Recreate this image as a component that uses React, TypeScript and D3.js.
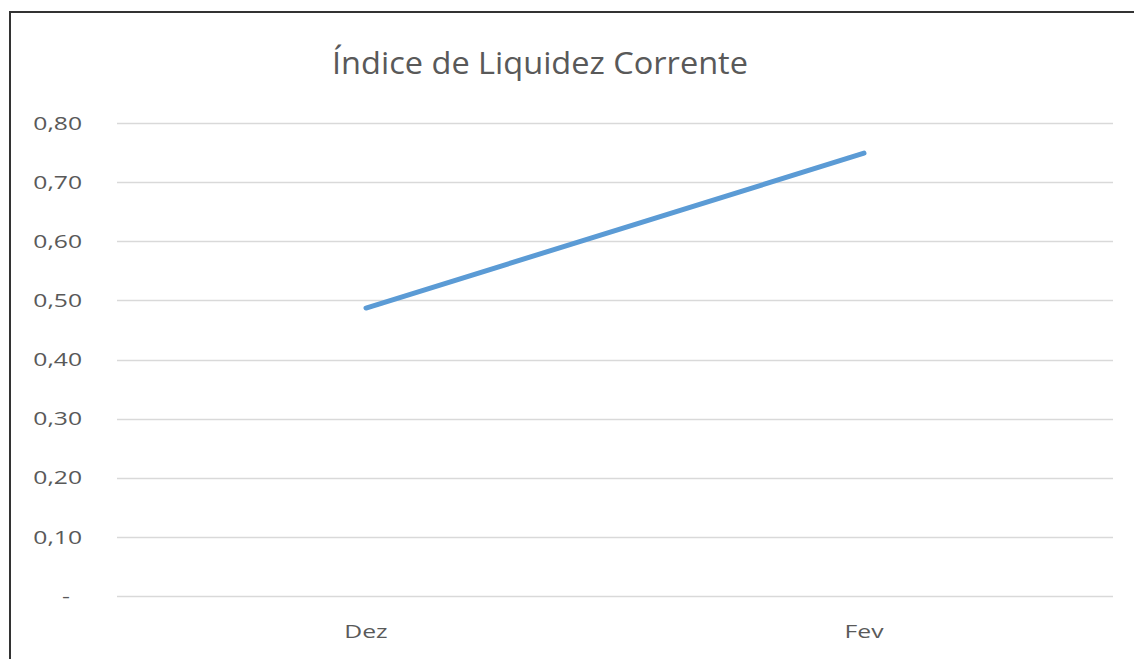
import { useEffect, useRef } from "react";
import * as d3 from "d3";

const categories = ["Dez", "Fev"];
const values = [0.487, 0.749];
const yTicks = [0, 0.1, 0.2, 0.3, 0.4, 0.5, 0.6, 0.7, 0.8];
const title = "Índice de Liquidez Corrente";

const W = 1134;
const H = 659;

const App = () => {
  const svgRef = useRef<SVGSVGElement>(null);

  useEffect(() => {
    const svg = d3.select(svgRef.current);
    svg.selectAll("*").remove();

    const left = 117;
    const right = 1113;
    const top = 123;
    const bottom = 596;
    const font = "'Open Sans', sans-serif";
    // the source picture is stretched sideways a bit
    const sx = 1.3;

    // outer frame (left + top only, rest is cropped off)
    svg
      .append("path")
      .attr("d", `M10,${H} L10,12 L${W},12`)
      .attr("fill", "none")
      .attr("stroke", "#333")
      .attr("stroke-width", 2);

    svg
      .append("text")
      .attr("transform", "translate(540,74) scale(1.05,1)")
      .attr("text-anchor", "middle")
      .attr("font-family", font)
      .attr("font-size", 31)
      .attr("fill", "#595959")
      .text(title);

    const x = d3.scaleBand().domain(categories).range([left, right]).padding(0);
    const y = d3.scaleLinear().domain([0, 0.8]).range([bottom, top]);

    // gridlines
    svg
      .append("g")
      .selectAll("line")
      .data(yTicks)
      .join("line")
      .attr("x1", left)
      .attr("x2", right)
      .attr("y1", (d) => Math.round(y(d)) + 0.5)
      .attr("y2", (d) => Math.round(y(d)) + 0.5)
      .attr("stroke", "#d9d9d9")
      .attr("stroke-width", 1.5);

    // y labels
    svg
      .append("g")
      .selectAll("text")
      .data(yTicks)
      .join("text")
      .attr(
        "transform",
        (d) => `translate(${d === 0 ? 70 : 82},${y(d)}) scale(${sx},1)`
      )
      .attr("dy", "0.35em")
      .attr("text-anchor", "end")
      .attr("font-family", font)
      .attr("font-size", 19)
      .attr("fill", "#595959")
      .text((d) => (d === 0 ? "-" : d3.format(".2f")(d).replace(".", ",")));

    // x labels
    svg
      .append("g")
      .selectAll("text")
      .data(categories)
      .join("text")
      .attr(
        "transform",
        (d) => `translate(${x(d)! + x.bandwidth() / 2},638) scale(${sx},1)`
      )
      .attr("text-anchor", "middle")
      .attr("font-family", font)
      .attr("font-size", 19)
      .attr("fill", "#595959")
      .text((d) => d);

    const line = d3
      .line<number>()
      .x((d, i) => x(categories[i])! + x.bandwidth() / 2)
      .y((d) => y(d));

    svg
      .append("path")
      .datum(values)
      .attr("d", line)
      .attr("fill", "none")
      .attr("stroke", "#5b9bd5")
      .attr("stroke-width", 5)
      .attr("stroke-linecap", "round");
  }, []);

  return (
    <svg
      ref={svgRef}
      width={W}
      height={H}
      style={{ position: "fixed", left: 0, top: 0, background: "#fff" }}
    ></svg>
  );
};

export default App;
